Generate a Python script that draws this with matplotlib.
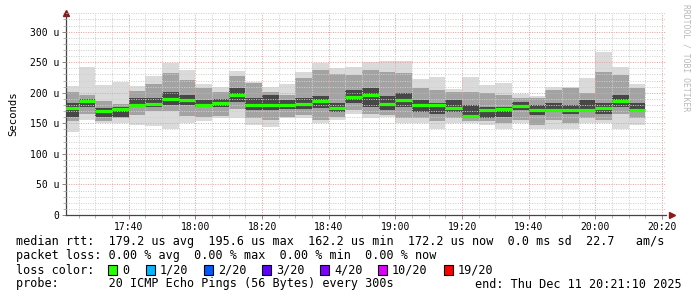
import numpy as np
import matplotlib
matplotlib.use("Agg")
import matplotlib.pyplot as plt
from matplotlib.patches import Rectangle

# smokeping style graph, 3 hours, 5 minute steps, values in microseconds
bar_start = np.arange(17 * 60 + 20, 20 * 60 + 15, 5)  # minutes since midnight

hi = [211, 242, 212, 218, 211, 227, 249, 237, 215, 209, 236, 218, 210, 214, 234,
      249, 241, 242, 251, 252, 252, 222, 225, 206, 226, 213, 216, 198, 195, 210,
      209, 224, 267, 242, 214]
upper = [201, 197, 186, 182, 203, 214, 232, 221, 207, 202, 227, 216, 201, 196, 224,
         237, 230, 229, 237, 234, 232, 207, 204, 202, 202, 199, 196, 191, 191, 204,
         207, 199, 234, 229, 207]
core_top = [183, 190, 175, 176, 192, 191, 202, 196, 188, 190, 207, 191, 197, 188, 191,
            194, 183, 204, 207, 194, 199, 188, 183, 188, 180, 177, 177, 185, 180, 183,
            180, 188, 183, 196, 183]
median = [174.5, 186.5, 170.5, 172.8, 180.5, 182, 190, 188, 180, 184, 196, 180, 180,
          180, 181.5, 186.5, 174.5, 192.5, 196, 182, 188, 180.5, 180.5, 175.5, 162.5,
          171, 172.8, 178, 171, 171, 171, 171, 174.5, 187, 172.2]
core_bot = [160, 177, 161, 161, 176, 176, 180, 180, 177, 176, 185, 172, 172, 174, 173,
            175, 169, 183, 177, 172, 177, 169, 166, 169, 158, 158, 161, 172, 164, 168,
            166, 172, 166, 177, 169]
lower = [153, 165, 153, 158, 164, 170, 170, 162, 161, 162, 174, 158, 155, 161, 164,
         155, 161, 172, 165, 164, 158, 158, 153, 158, 153, 154, 150, 155, 147, 155,
         150, 158, 155, 166, 158]
lo = [136, 155, 150, 150, 147, 146, 141, 150, 153, 158, 158, 147, 144, 158, 158,
      150, 155, 165, 159, 160, 150, 150, 141, 150, 150, 147, 141, 150, 141, 141,
      141, 150, 150, 141, 147]

loss_labels = ['0', '1/20', '2/20', '3/20', '4/20', '10/20', '19/20']
loss_colors = ['#26ff00', '#00b8ff', '#0059ff', '#5e00ff', '#7e00ff', '#dd00ff', '#ff0000']

W, H = 697, 297
MONO = 'DejaVu Sans Mono'

fig = plt.figure(figsize=(W / 100, H / 100), dpi=100)
ax = fig.add_axes([66 / W, 82 / H, 600 / W, 202 / H])

t0 = 17 * 60 + 21 + 10 / 60
ax.set_xlim(t0, t0 + 180)
ax.set_ylim(0, 330.5)

lo_a, hi_a = np.array(lo), np.array(hi)
ax.bar(bar_start, hi_a - lo_a, bottom=lo_a, width=5, align='edge', color='#dadada', lw=0, zorder=2)
ax.bar(bar_start, np.array(upper) - np.array(lower), bottom=lower, width=5, align='edge',
       color='#a3a3a3', lw=0, zorder=2)
ax.bar(bar_start, np.array(core_top) - np.array(core_bot), bottom=core_bot, width=5,
       align='edge', color='#474747', lw=0, zorder=2)
ax.hlines(median, bar_start, bar_start + 5, colors='#26ff00', lw=2.3, zorder=4)

# grid
for m in np.arange(1045, 1225, 5):
    major = m % 20 == 0
    ax.axvline(m, color='#eaa0a0' if major else '#cfcfcf', lw=0.72,
               dashes=(1, 1.4), zorder=3)
for v in range(10, 331, 10):
    major = v % 50 == 0
    ax.axhline(v, color='#eaa0a0' if major else '#cfcfcf', lw=0.72,
               dashes=(1, 1.4), zorder=3)

xt = np.arange(1060, 1221, 20)
ax.set_xticks(xt)
ax.set_xticklabels(['%d:%02d' % (m // 60, m % 60) for m in xt], fontfamily=MONO, fontsize=7)
ax.set_xticks(np.arange(1045, 1225, 5), minor=True)
yt = np.arange(0, 301, 50)
ax.set_yticks(yt)
ax.set_yticklabels(['0'] + ['%d u' % v for v in yt[1:]], fontfamily=MONO, fontsize=7)
ax.set_yticks(np.arange(0, 331, 10), minor=True)
ax.tick_params(which='major', length=3, width=0.7, color='#888888', pad=2)
ax.tick_params(which='minor', length=2, width=0.6, color='#aaaaaa')
ax.set_ylabel('Seconds', fontfamily=MONO, fontsize=7.7, labelpad=8)

for s in ['top', 'right']:
    ax.spines[s].set_visible(False)
for s in ['left', 'bottom']:
    ax.spines[s].set_color('#444444')
    ax.spines[s].set_linewidth(0.9)
ax.plot([0], [1.0], marker='^', color='#8b1a1a', ms=4, transform=ax.transAxes, clip_on=False)
ax.plot([1.01], [0], marker='>', color='#8b1a1a', ms=4, transform=ax.transAxes, clip_on=False)


def ftext(x, y, s, **kw):
    fig.text(x / W, 1 - y / H, s, fontfamily=MONO, va='center', **kw)


fs = 8.5
ftext(16, 241, 'median rtt:  179.2 us avg  195.6 us max  162.2 us min  172.2 us now  0.0 ms sd  22.7   am/s', fontsize=fs)
ftext(16, 256, 'packet loss: 0.00 % avg  0.00 % max  0.00 % min  0.00 % now', fontsize=fs)
ftext(16, 270, 'loss color:', fontsize=fs)
sq_x = [108, 146, 204, 262, 320, 378, 444]
for x, lab, c in zip(sq_x, loss_labels, loss_colors):
    fig.patches.append(Rectangle((x / W, 1 - 275 / H), 9 / W, 10 / H, facecolor=c,
                                 edgecolor='black', lw=0.8, transform=fig.transFigure))
    ftext(x + 14, 270, lab, fontsize=fs)
ftext(16, 284, 'probe:       20 ICMP Echo Pings (56 Bytes) every 300s', fontsize=fs)
ftext(682, 284, 'end: Thu Dec 11 20:21:10 2025', fontsize=fs, ha='right')

fig.text(686 / W, 1 - 4 / H, 'RRDTOOL / TOBI OETIKER', fontfamily=MONO, fontsize=5.8,
         color='#b8b8b8', rotation=270, ha='center', va='top')

fig.savefig('out.png', dpi=100)
